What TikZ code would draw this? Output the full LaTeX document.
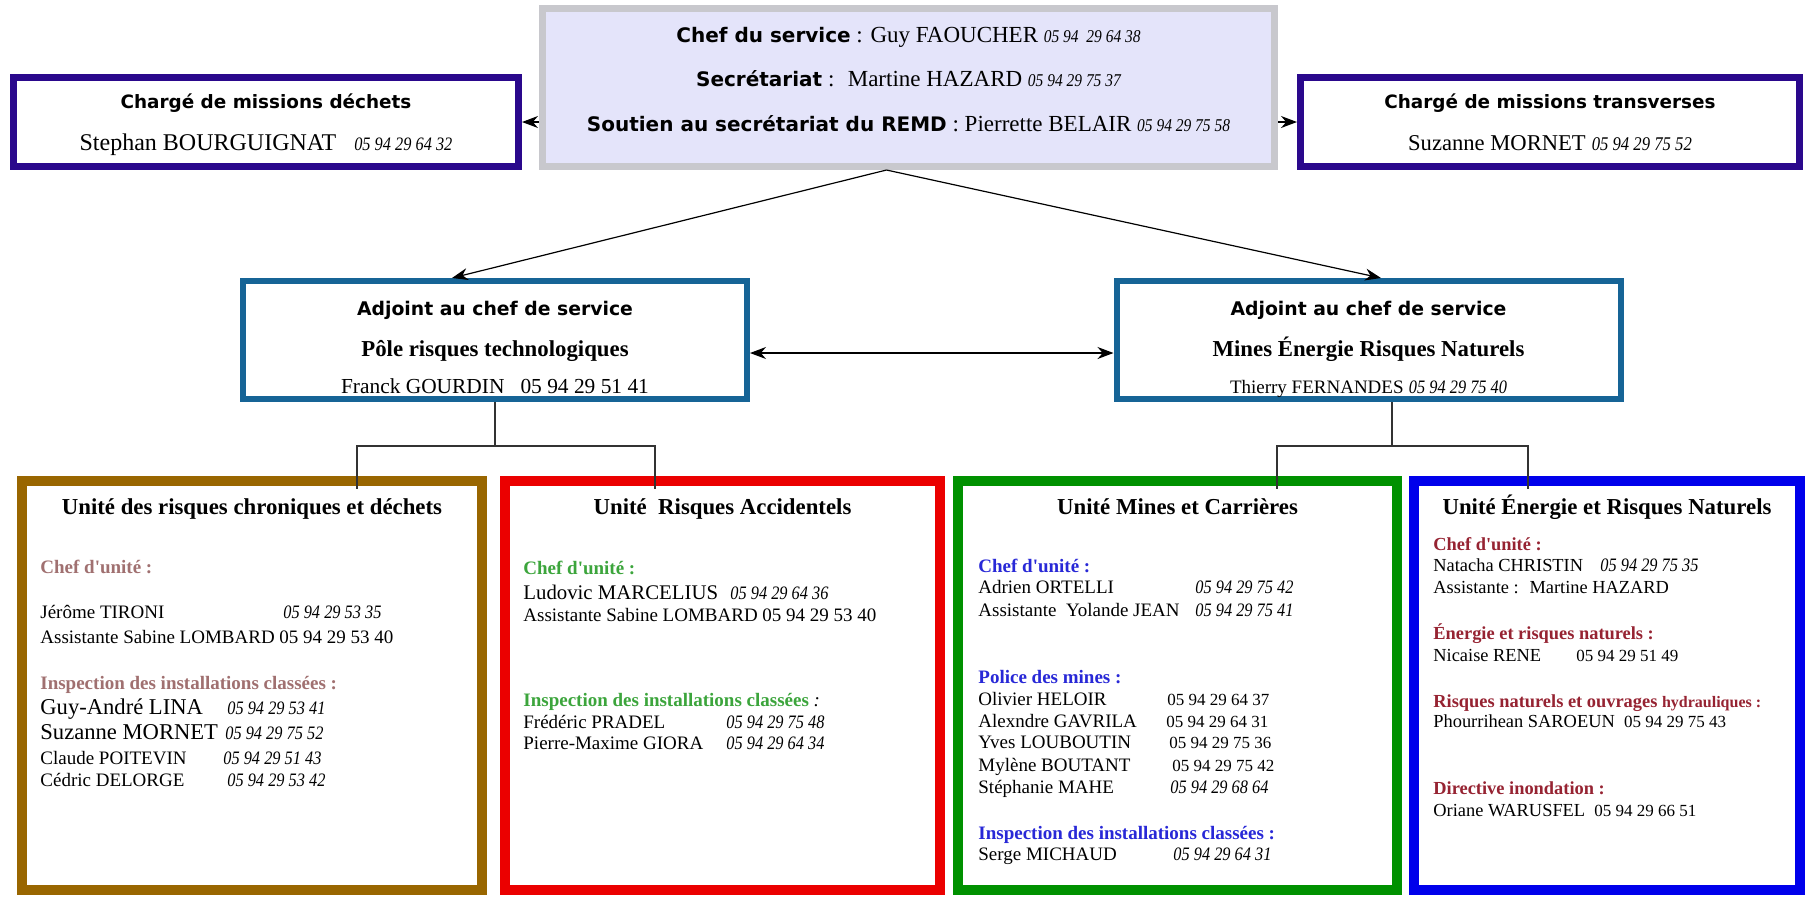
\documentclass[tikz,border=0pt]{standalone}
\usepackage{fontspec}
\setmainfont{Liberation Serif}
\newfontfamily\hsans{DejaVu Sans}
\newfontface\telface[FakeStretch=0.86]{Liberation Serif Italic}
\usetikzlibrary{arrows.meta,positioning}

\definecolor{chefFill}{RGB}{228,228,250}
\definecolor{chefLine}{RGB}{200,200,205}
\definecolor{missionLine}{RGB}{42,8,140}
\definecolor{poleLine}{RGB}{22,100,150}
\definecolor{chroniquesLine}{RGB}{153,102,0}
\definecolor{accidentelsLine}{RGB}{235,0,0}
\definecolor{carrieresLine}{RGB}{0,145,0}
\definecolor{naturelsLine}{RGB}{0,0,235}
\definecolor{chroniquesLab}{RGB}{160,112,112}
\definecolor{accidentelsLab}{RGB}{60,165,60}
\definecolor{carrieresLab}{RGB}{40,40,215}
\definecolor{naturelsLab}{RGB}{150,35,50}

\newcommand{\hd}[2][10]{{\hsans\bfseries\fontsize{#1}{12}\selectfont #2}}
\newcommand{\tel}[2][9.5]{{\telface\fontsize{#1}{11}\selectfont #2}}
\newcommand{\num}[1]{{\fontsize{8.5}{11}\selectfont #1}}
\newcommand{\nm}[2]{\makebox[#1][l]{#2}}
\newcommand{\lbl}[2]{\textcolor{#1}{\bfseries #2}}
\newcommand{\chefunite}{Chef d\textquotesingle unité :}

\begin{document}
\begin{tikzpicture}[
    x=0.5pt, y=-0.5pt,
    chefbox/.style={rectangle, draw=chefLine, fill=chefFill, line width=3.5pt, minimum width=366pt, minimum height=79pt, align=center, inner sep=0pt, font=\fontsize{11.5}{22.25}\selectfont},
    missionbox/.style={rectangle, draw=missionLine, fill=white, line width=3.5pt, minimum height=44.5pt, align=center, inner sep=0pt, font=\fontsize{12}{21}\selectfont},
    polebox/.style={rectangle, draw=poleLine, line width=3pt, minimum width=252pt, minimum height=56pt, align=center, inner sep=0pt, font=\fontsize{10.7}{20.5}\selectfont},
    unitbox/.style={rectangle, draw=#1, line width=5pt, minimum height=204.5pt, inner sep=0pt},
    unittitle/.style={anchor=base, font=\bfseries\fontsize{11.4}{13}\selectfont},
    unittext/.style={anchor=north west, align=left, inner sep=0pt, font=\fontsize{9.5}{11}\selectfont},
    arrow/.style={->, >={Stealth[length=8pt,width=6pt]}, line width=0.6pt},
    tree/.style={line width=0.6pt, draw=black!80}
]
\useasboundingbox (0,0) rectangle (1805,896);
\fill[white] (0,0) rectangle (1805,896);

% Direction du service
\node[chefbox] (chef) at (908.5,87.5) {\rule{0pt}{10pt}\hd{Chef du service} : Guy FAOUCHER \tel[9]{05 94~~29 64 38}\\
    \hd{Secrétariat} :~ Martine HAZARD \tel[9]{05 94 29 75 37}\\
    \hd{Soutien au secrétariat du REMD} : Pierrette BELAIR \tel[9]{05 94 29 75 58}\rule[-11pt]{0pt}{0pt}};
\node[missionbox, minimum width=252.5pt] (dechets) at (266,122) {\rule{0pt}{10pt}\hd[9.2]{Chargé de missions déchets}\\
    Stephan BOURGUIGNAT~~~\tel{05 94 29 64 32}\rule[-3pt]{0pt}{0pt}};
\node[missionbox, minimum width=249.5pt] (transverses) at (1550,122) {\rule{0pt}{10pt}\hd[9.2]{Chargé de missions transverses}\\
    {\fontsize{11.3}{21}\selectfont Suzanne MORNET} \tel[9.7]{05 94 29 75 52}\rule[-3pt]{0pt}{0pt}};

% Adjoints
\node[polebox] (poleTech) at (495,340) {\rule{0pt}{17pt}\hd[9.4]{Adjoint au chef de service}\\
    {\bfseries\fontsize{11.4}{20.5}\selectfont Pôle risques technologiques}\\[-2pt]
    Franck GOURDIN~~~05 94 29 51 41\rule[-3pt]{0pt}{0pt}};
\node[polebox] (poleMines) at (1368.5,340) {\rule{0pt}{17pt}\hd[9.4]{Adjoint au chef de service}\\
    {\bfseries\fontsize{11.4}{20.5}\selectfont Mines Énergie Risques Naturels}\\[-2pt]
    {\fontsize{9.5}{20.5}\selectfont Thierry FERNANDES} \tel{05 94 29 75 40}\rule[-3pt]{0pt}{0pt}};

% Unites
\node[unitbox=chroniquesLine, minimum width=230pt] (chroniques) at (252,685.5) {};
\node[unitbox=accidentelsLine, minimum width=217.5pt] (accidentels) at (722.5,685.5) {};
\node[unitbox=carrieresLine, minimum width=219.5pt] (carrieres) at (1177.5,685.5) {};
\node[unitbox=naturelsLine, minimum width=193pt] (naturels) at (1607,685.5) {};

% Draw arrows
\draw[arrow] (dechets.east -| chef.west) -- (dechets.east);
\draw[arrow] (transverses.west -| chef.east) -- (transverses.west);
\draw[arrow] ([xshift=-11pt]chef.south) -- ([xshift=-21.5pt]poleTech.north);
\draw[arrow] ([xshift=-11pt]chef.south) -- ([xshift=6.25pt]poleMines.north);
\draw[arrow, <->] ([yshift=-6.5pt]poleTech.east) -- ([yshift=-6.5pt]poleMines.west);

% Draw tree lines
\draw[tree] (poleTech.south) -- ++(0,44) -| ([xshift=52.5pt,yshift=-6.5pt]chroniques.north);
\draw[tree] (poleTech.south) -- ++(0,44) -| ([xshift=-33.75pt,yshift=-6.5pt]accidentels.north);
\draw[tree] ([xshift=11.75pt]poleMines.south) -- ++(0,44) -| ([xshift=49.75pt,yshift=-6.5pt]carrieres.north);
\draw[tree] ([xshift=11.75pt]poleMines.south) -- ++(0,44) -| ([xshift=-39.5pt,yshift=-6.5pt]naturels.north);

% Add titles and staff lists inside units
\node[unittitle] (chroniquesTitre) at ([yshift=-19pt]chroniques.north) {Unité des risques chroniques et déchets};
\node[unittitle] (accidentelsTitre) at ([yshift=-19pt]accidentels.north) {Unité~~Risques Accidentels};
\node[unittitle] (carrieresTitre) at ([yshift=-19pt]carrieres.north) {Unité Mines et Carrières};
\node[unittitle] (naturelsTitre) at ([yshift=-19pt]naturels.north) {Unité Énergie et Risques Naturels};

\node[unittext] (chroniquesListe) at ([shift={(23,77)}]chroniques.north west) {\rule{0pt}{10pt}\lbl{chroniquesLab}{\chefunite}\\[11.5pt]
    \nm{121.5pt}{Jérôme TIRONI}\tel{05 94 29 53 35}\\[1.5pt]
    Assistante Sabine LOMBARD 05 94 29 53 40\\[12pt]
    \lbl{chroniquesLab}{Inspection des installations classées :}\\[1.5pt]
    {\fontsize{11.3}{11}\selectfont\nm{93.5pt}{Guy-André LINA}}\tel{05 94 29 53 41}\\[1.5pt]
    {\fontsize{11.3}{11}\selectfont\nm{92.5pt}{Suzanne MORNET}}\tel{05 94 29 75 52}\\[1.5pt]
    \nm{91.5pt}{Claude POITEVIN}\tel{05 94 29 51 43}\\
    \nm{93.5pt}{Cédric DELORGE}\tel{05 94 29 53 42}};

\node[unittext] (accidentelsListe) at ([shift={(23,78)}]accidentels.north west) {\rule{0pt}{10pt}\lbl{accidentelsLab}{\chefunite}\\[1.5pt]
    {\fontsize{10.4}{11}\selectfont\nm{103.5pt}{Ludovic MARCELIUS}}\tel{05 94 29 64 36}\\
    Assistante Sabine LOMBARD 05 94 29 53 40\\[31.5pt]
    \lbl{accidentelsLab}{Inspection des installations classées} {\itshape :}\\
    \nm{101.5pt}{Frédéric PRADEL}\tel{05 94 29 75 48}\\[-0.5pt]
    \nm{101.5pt}{Pierre-Maxime GIORA}\tel{05 94 29 64 34}};

\node[unittext] (carrieresListe) at ([shift={(25,76)}]carrieres.north west) {\rule{0pt}{10pt}\lbl{carrieresLab}{\chefunite}\\[-0.5pt]
    \nm{108.5pt}{Adrien ORTELLI}\tel{05 94 29 75 42}\\[0.5pt]
    \nm{108.5pt}{Assistante~ Yolande JEAN}\tel{05 94 29 75 41}\\[22.5pt]
    \lbl{carrieresLab}{Police des mines :}\\
    \nm{94.5pt}{Olivier HELOIR}\num{05 94 29 64 37}\\
    \nm{94pt}{Alexndre GAVRILA}\num{05 94 29 64 31}\\[-0.5pt]
    \nm{95.5pt}{Yves LOUBOUTIN}\num{05 94 29 75 36}\\[0.5pt]
    \nm{97pt}{Mylène BOUTANT}\num{05 94 29 75 42}\\
    \nm{96pt}{Stéphanie MAHE}\tel{05 94 29 68 64}\\[12pt]
    \lbl{carrieresLab}{Inspection des installations classées :}\\[-0.5pt]
    \nm{97.5pt}{Serge MICHAUD}\tel{05 94 29 64 31}};

\node[unittext, font=\fontsize{9.2}{11}\selectfont] (naturelsListe) at ([shift={(24,54)}]naturels.north west) {\rule{0pt}{10pt}\lbl{naturelsLab}{\chefunite}\\[-0.5pt]
    \nm{83.5pt}{Natacha CHRISTIN}\tel{05 94 29 75 35}\\
    Assistante :~ Martine HAZARD\\[12pt]
    \lbl{naturelsLab}{Énergie et risques naturels :}\\
    \nm{71.5pt}{Nicaise RENE}\num{05 94 29 51 49}\\[12pt]
    \lbl{naturelsLab}{Risques naturels et ouvrages {\fontsize{8}{11}\selectfont hydrauliques :}}\\[-1pt]
    Phourrihean SAROEUN~ \num{05 94 29 75 43}\\[22.5pt]
    \lbl{naturelsLab}{Directive inondation :}\\
    Oriane WARUSFEL~ \num{05 94 29 66 51}};

\end{tikzpicture}
\end{document}
